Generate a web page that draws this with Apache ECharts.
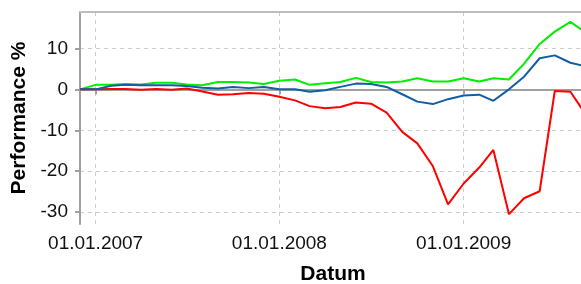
<!DOCTYPE html>
<html><head><meta charset="utf-8">
<script src="https://cdn.jsdelivr.net/npm/echarts@6/dist/echarts.min.js"></script>
<style>html,body{margin:0;padding:0;background:#fff}#c{width:581px;height:284px}</style>
</head><body><div id="c"></div>
<script>
const dates = ['2006-12-01','2007-01-01','2007-02-01','2007-03-01','2007-04-01','2007-05-01','2007-06-01','2007-07-01','2007-08-01','2007-09-01','2007-10-01','2007-11-01','2007-12-01',
'2008-01-01','2008-02-01','2008-03-01','2008-04-01','2008-05-01','2008-06-01','2008-07-01','2008-08-01','2008-09-01','2008-10-01','2008-11-01','2008-12-01',
'2009-01-01','2009-02-01','2009-03-01','2009-04-01','2009-05-01','2009-06-01','2009-07-01','2009-08-01','2009-09-01'];
const greenVals = [0,1.1,1.1,1.3,1.2,1.6,1.6,1.2,1.0,1.8,1.8,1.7,1.3,2.1,2.4,1.1,1.5,1.8,2.8,1.8,1.7,1.9,2.7,1.9,1.9,2.7,1.9,2.7,2.4,6.3,11.1,14.1,16.5,13.8];
const redVals = [0,0,0.1,0.1,-0.1,0.1,-0.1,0.2,-0.5,-1.3,-1.2,-0.9,-1.1,-1.8,-2.7,-4.1,-4.6,-4.3,-3.2,-3.5,-5.7,-10.4,-13.2,-18.8,-28.1,-23.0,-19.1,-14.8,-30.5,-26.6,-24.9,-0.4,-0.6,-6.2];
const blueVals = [0,0,0.9,1.1,1.0,1.0,1.0,0.8,0.4,0.2,0.6,0.3,0.6,0,0,-0.6,-0.2,0.6,1.4,1.3,0.6,-1.2,-3.0,-3.6,-2.4,-1.5,-1.3,-2.8,0,3.1,7.6,8.3,6.5,5.6];
const yTicks = [-30,-20,-10,0,10];

const pairs = v => dates.map((d,i)=>[d,v[i]]);
const fmt = v => { const d = new Date(v); const p = n => (n<10?'0':'')+n; return p(d.getDate())+'.'+p(d.getMonth()+1)+'.'+d.getFullYear(); };
const chart = echarts.init(document.getElementById('c'), null, {renderer:'canvas'});
const font = 'Liberation Sans, Arial, sans-serif';
chart.setOption({
  animation:false,
  grid:{left:80,right:-5,top:12,bottom:60,show:false,containLabel:false,outerBoundsMode:'none'},
  xAxis:[{type:'time',min:'2006-12-01',max:'2009-09-01',
    minInterval:365*24*3600*1000, maxInterval:366*24*3600*1000,
    name:'Datum',nameLocation:'middle',nameGap:40,
    nameTextStyle:{fontFamily:font,fontSize:21,fontWeight:'bold',color:'#000'},
    axisLine:{lineStyle:{color:'#a0a0a0',width:2}},
    axisTick:{show:true,length:5,lineStyle:{color:'#a0a0a0',width:2}},
    axisLabel:{formatter:fmt,fontFamily:font,fontSize:19,color:'#111',margin:10,showMinLabel:false,showMaxLabel:false},
    splitLine:{show:true,showMinLine:false,showMaxLine:false,lineStyle:{color:'#cccccc',type:[4,4],width:1}},
    minorTick:{show:false}},
   {type:'value',position:'top',min:0,max:1,axisLine:{show:true,lineStyle:{color:'#bdbdbd',width:2}},
    axisTick:{show:false},axisLabel:{show:false},splitLine:{show:false}}],
  yAxis:{type:'value',min:-32.9,max:18.9,
    name:'Performance %',nameLocation:'middle',nameGap:50,
    nameTextStyle:{fontFamily:font,fontSize:21,fontWeight:'bold',color:'#000'},
    axisLine:{show:true,lineStyle:{color:'#a0a0a0',width:2}},
    axisTick:{show:true,length:5,lineStyle:{color:'#a0a0a0',width:2},customValues:yTicks},
    axisLabel:{fontFamily:font,fontSize:19,color:'#111',margin:12,customValues:yTicks},
    splitLine:{show:true,lineStyle:{color:'#cccccc',type:[4,4],width:1}}},
  series:[
    {type:'line',data:pairs(greenVals),showSymbol:false,lineStyle:{color:'#00ee00',width:2},itemStyle:{color:'#00ee00'}},
    {type:'line',data:pairs(redVals),showSymbol:false,lineStyle:{color:'#ff0000',width:2},itemStyle:{color:'#ff0000'}},
    {type:'line',data:pairs(blueVals),showSymbol:false,lineStyle:{color:'#0f5ea6',width:2},itemStyle:{color:'#0f5ea6'}}
  ]
});
</script></body></html>
